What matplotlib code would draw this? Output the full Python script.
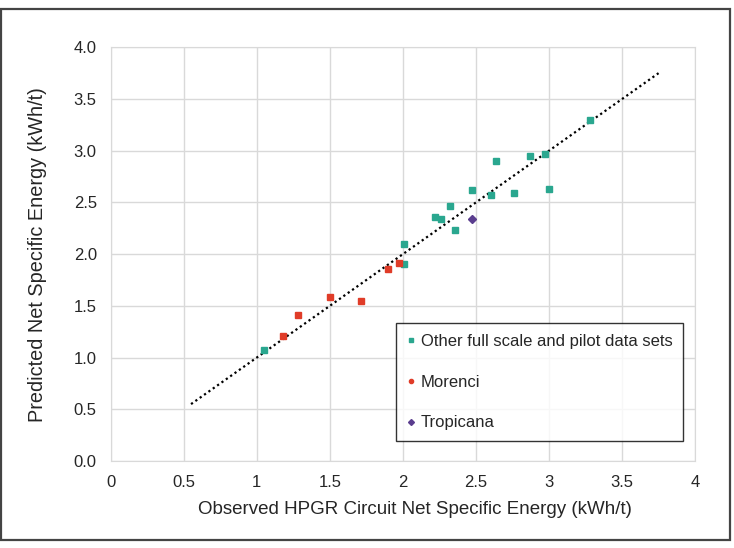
import matplotlib
matplotlib.use("Agg")
from matplotlib import pyplot as plt
from matplotlib.lines import Line2D
from matplotlib.patches import Rectangle

plt.rcParams['font.family'] = ['Liberation Sans', 'DejaVu Sans']

# Other full scale and pilot data sets
other_obs = [1.05, 2.01, 2.01, 2.22, 2.26, 2.32, 2.36, 2.47, 2.60, 2.64, 2.76, 2.87, 2.97, 3.00, 3.28]
other_pred = [1.07, 2.10, 1.90, 2.36, 2.34, 2.47, 2.23, 2.62, 2.57, 2.90, 2.59, 2.95, 2.97, 2.63, 3.30]

# Morenci
morenci_obs = [1.18, 1.28, 1.50, 1.71, 1.90, 1.97]
morenci_pred = [1.21, 1.41, 1.59, 1.55, 1.86, 1.91]

# Tropicana
tropicana_obs = [2.47]
tropicana_pred = [2.34]

# 1:1 line
line_x = [0.55, 3.75]
line_y = [0.55, 3.75]

x_ticks = [0, 0.5, 1, 1.5, 2, 2.5, 3, 3.5, 4]
x_labels = ["0", "0.5", "1", "1.5", "2", "2.5", "3", "3.5", "4"]
y_ticks = [0.0, 0.5, 1.0, 1.5, 2.0, 2.5, 3.0, 3.5, 4.0]

TEAL = '#2aa78f'
RED = '#e03c28'
PURPLE = '#5a3d8e'
TEXT = '#262626'

fig = plt.figure(figsize=(7.34, 5.48), dpi=100)
ax = fig.add_axes([0.1508, 0.1588, 0.7962, 0.7549])

ax.plot(line_x, line_y, linestyle=(0, (1, 1.4)), color='black', linewidth=1.6, zorder=2)
ax.plot(other_obs, other_pred, 's', color=TEAL, markersize=4.5, zorder=3)
ax.plot(morenci_obs, morenci_pred, 's', color=RED, markersize=4.5, zorder=3)
ax.plot(tropicana_obs, tropicana_pred, 'D', color=PURPLE, markersize=4.5, zorder=3)

ax.set_xlim(0, 4)
ax.set_ylim(0, 4)
ax.set_xticks(x_ticks)
ax.set_xticklabels(x_labels)
ax.set_yticks(y_ticks)
ax.set_yticklabels([f"{v:.1f}" for v in y_ticks])
ax.tick_params(length=0, labelsize=12, colors=TEXT, pad=10)
ax.grid(True, color='#d9d9d9', linewidth=1)
ax.set_axisbelow(True)
for s in ax.spines.values():
    s.set_color('#d9d9d9')

ax.set_xlabel("Observed HPGR Circuit Net Specific Energy (kWh/t)", fontsize=13.5, color=TEXT)
ax.xaxis.set_label_coords(0.52, -0.097)
ax.set_ylabel("Predicted Net Specific Energy (kWh/t)", fontsize=14.3, color=TEXT, labelpad=19)

handles = [
    Line2D([], [], linestyle='none', marker='s', color=TEAL, markersize=3),
    Line2D([], [], linestyle='none', marker='o', color=RED, markersize=3),
    Line2D([], [], linestyle='none', marker='D', color=PURPLE, markersize=3),
]
labels = ["Other full scale and pilot data sets", "Morenci", "Tropicana"]
leg = ax.legend(handles, labels, loc='lower right', bbox_to_anchor=(0.9795, 0.0475),
                fontsize=12, frameon=True, fancybox=False, edgecolor='black',
                handlelength=0.5, handletextpad=0.3, labelspacing=1.55,
                borderpad=0.65, borderaxespad=0)
leg.get_frame().set_linewidth(1)
for t in leg.get_texts():
    t.set_color(TEXT)

# outer frame
fig.patches.append(Rectangle((0.0015, 0.0146), 0.993, 0.969, transform=fig.transFigure,
                             fill=False, edgecolor='#444444', linewidth=1.6))

fig.savefig("out.png", dpi=100)
